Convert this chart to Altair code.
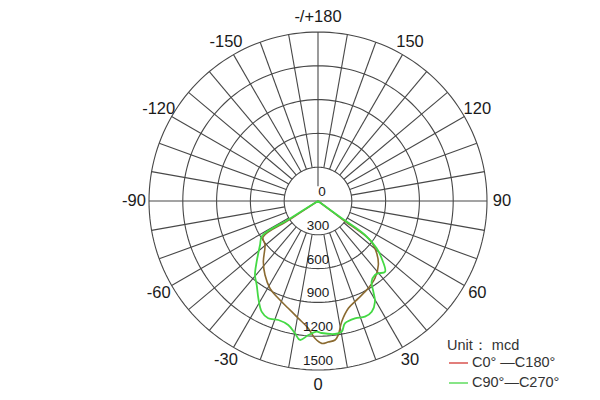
import altair as alt
import pandas as pd
import numpy as np

# ---- data (angle in degrees, 0 = straight down, + to the right; intensity in mcd)
red_angles = [-90, -56.8, -56.8, -50.3, -42.0, -35.6, -28.8, -22.2, -15.5, -9.5, -4.4, -1.3,
              1.5, 4.1, 7.0, 8.6, 11.1, 15.8, 22.5, 29.9, 36.4, 43.3, 48.3, 53.1, 53.1, 90]
red_values = [0, 300, 583, 611, 725, 808, 884, 933, 988, 1056, 1133, 1219,
              1264, 1255, 1243, 1203, 1092, 990, 935, 894, 852, 781, 698, 577, 300, 0]

green_angles = [-90, -58.0, -58.0, -52.8, -45.3, -40.4, -36.1, -31.5, -27.0, -23.0, -18.4, -13.5,
                -9.9, -7.4, -4.1, -0.6, 1.6, 7.3, 10.3, 12.4, 17.5, 22.1, 25.9, 29.5,
                31.4, 33.6, 37.6, 39.8, 43.5, 48.0, 51.1, 54.1, 54.1, 90]
green_values = [0, 300, 586, 646, 766, 863, 923, 1013, 1102, 1131, 1113, 1132,
                1192, 1244, 1193, 1160, 1172, 1190, 1179, 1112, 1092, 1108, 1092, 1027,
                943, 860, 829, 836, 865, 760, 669, 515, 260, 0]

ring_values = [300, 600, 900, 1200, 1500]
radial_label_values = [0, 300, 600, 900, 1200, 1500]
radial_label_texts = ["0", "300", "600", "900", "1200", "1500"]
angle_ticks = [-150, -120, -90, -60, -30, 0, 30, 60, 90, 120, 150, 180]
angle_texts = ["-150", "-120", "-90", "-60", "-30", "0", "30", "60", "90", "120", "150", "-/+180"]
legend_title = "Unit\uff1a mcd"
legend_names = ["C0\u00b0 \u2014C180\u00b0", "C90\u00b0\u2014C270\u00b0"]
legend_colors = ["#d9534f", "#5fdc5f"]

# ---- geometry of the view
RMAX = 1500
K = 169 / RMAX          # px per mcd
W, H = 584, 384
CX, CY = 310, 188       # centre of the polar plot in view px
xs = alt.Scale(domain=[-CX / K, (W - CX) / K], nice=False, zero=False)
ys = alt.Scale(domain=[-(H - CY) / K, CY / K], nice=False, zero=False)
X = lambda f: alt.X(f, type="quantitative", scale=xs, axis=None)
Y = lambda f: alt.Y(f, type="quantitative", scale=ys, axis=None)

GRID = "#484848"
GW = 1.1

# rings
ring_rows = []
for r in ring_values:
    for a in range(0, 362, 2):
        ring_rows.append({"ring": r, "a": a, "ord": a})
rings = alt.Chart(pd.DataFrame(ring_rows)).transform_calculate(
    x="datum.ring*sin(datum.a*PI/180)", y="-datum.ring*cos(datum.a*PI/180)"
).mark_line(color=GRID, strokeWidth=GW).encode(
    x=X("x"), y=Y("y"), detail="ring:N", order="ord:Q"
)

# spokes every 10 degrees (from the 300 ring outward)
spoke_angles = [a for a in range(-170, 181, 10) if a not in (0, -90, 90, 180)]
spokes = alt.Chart(pd.DataFrame({"a": spoke_angles})).transform_calculate(
    x1=f"{ring_values[0]}*sin(datum.a*PI/180)", y1=f"-{ring_values[0]}*cos(datum.a*PI/180)",
    x2=f"{RMAX}*sin(datum.a*PI/180)", y2=f"-{RMAX}*cos(datum.a*PI/180)"
).mark_rule(color=GRID, strokeWidth=GW).encode(
    x=X("x1"), y=Y("y1"), x2="x2:Q", y2="y2:Q"
)

# horizontal diameter and upward vertical line
axes_df = pd.DataFrame({"x1": [-RMAX, 0], "x2": [RMAX, 0], "y1": [0, 130], "y2": [0, RMAX]})
axes_lines = alt.Chart(axes_df).mark_rule(color=GRID, strokeWidth=GW).encode(
    x=X("x1"), y=Y("y1"), x2="x2:Q", y2="y2:Q"
)

# curves
curve_df = pd.concat([
    pd.DataFrame({"angle": red_angles, "value": red_values, "series": "C0-C180",
                  "idx": range(len(red_angles))}),
    pd.DataFrame({"angle": green_angles, "value": green_values, "series": "C90-C270",
                  "idx": range(len(green_angles))}),
])
base_curve = alt.Chart(curve_df).transform_calculate(
    x="datum.value*sin(datum.angle*PI/180)", y="-datum.value*cos(datum.angle*PI/180)"
)
red_line = base_curve.transform_filter("datum.series == 'C0-C180'").mark_line(
    color="#8a6a30", strokeWidth=1.6, interpolate="catmull-rom"
).encode(x=X("x"), y=Y("y"), order="idx:Q")
green_line = base_curve.transform_filter("datum.series == 'C90-C270'").mark_line(
    color="#44d944", strokeWidth=1.8, interpolate="catmull-rom"
).encode(x=X("x"), y=Y("y"), order="idx:Q")

# angle labels
LR = 184 / K
ang_labels = alt.Chart(pd.DataFrame({"a": angle_ticks, "t": angle_texts})).transform_calculate(
    x=f"{LR}*sin(datum.a*PI/180)", y=f"-{LR}*cos(datum.a*PI/180)"
).mark_text(font="Liberation Sans", fontSize=16.5, color="#1a1a1a",
            align="center", baseline="middle").encode(x=X("x"), y=Y("y"), text="t:N")

# radial value labels
rad_labels = alt.Chart(pd.DataFrame({"v": radial_label_values, "t": radial_label_texts})).transform_calculate(
    x="datum.v == 0 ? 36 : 0", y=f"-datum.v + {9 / K}"
).mark_text(font="Liberation Sans", fontSize=13.5, color="#1a1a1a",
            align="center", baseline="middle").encode(x=X("x"), y=Y("y"), text="t:N")

# legend (decoration)
leg_title = alt.Chart(pd.DataFrame({"t": [legend_title]})).mark_text(
    font="Liberation Sans", fontSize=14.5, color="#333333", align="left", baseline="middle"
).encode(x=alt.value(439), y=alt.value(333), text="t:N")
leg_items = []
for i, (name, col) in enumerate(zip(legend_names, legend_colors)):
    yy = 350 + 20 * i
    leg_items.append(alt.Chart(pd.DataFrame({"t": [name]})).mark_rule(color=col, strokeWidth=1.5).encode(
        x=alt.value(441), x2=alt.value(460), y=alt.value(yy)))
    leg_items.append(alt.Chart(pd.DataFrame({"t": [name]})).mark_text(
        font="Liberation Sans", fontSize=14.5, color="#333333", align="left", baseline="middle"
    ).encode(x=alt.value(464), y=alt.value(yy), text="t:N"))

chart = alt.layer(
    rings, spokes, axes_lines, red_line, green_line, ang_labels, rad_labels, leg_title, *leg_items
).properties(width=W, height=H, padding=0, background="white").configure_view(stroke=None)

chart.save("out.html", embed_options={"renderer": "svg", "actions": False})
